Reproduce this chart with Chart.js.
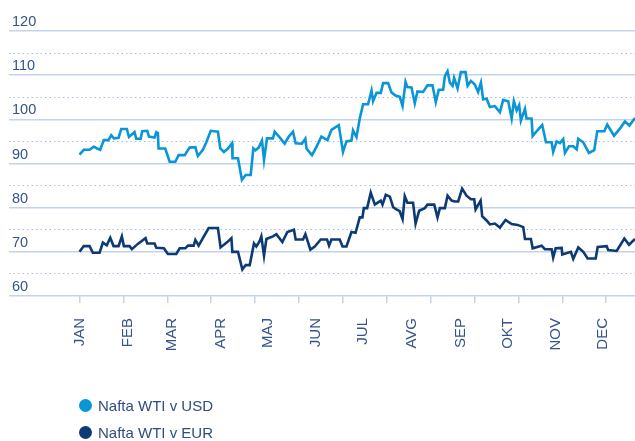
<!DOCTYPE html>
<html>
<head>
<meta charset="utf-8">
<script src="https://cdn.jsdelivr.net/npm/chart.js@4.4.1/dist/chart.umd.min.js"></script>
<style>
  body { margin: 0; background: #fff; }
  #wrap { position: relative; width: 635px; height: 441px; }
  .legend-item { position: absolute; left: 79px; display: flex; align-items: center;
    font-family: 'Liberation Sans', Arial, sans-serif; font-size: 15px; color: #2f4d7e; }
  .legend-item span.dot { width: 13px; height: 13px; border-radius: 50%; margin-right: 6px; display: inline-block; }
</style>
</head>
<body>
<div id="wrap">
  <canvas id="oilChart" width="635" height="441"></canvas>
  <div class="legend-item" style="top:397px"><span class="dot" style="background:#0a96d6"></span>Nafta WTI v USD</div>
  <div class="legend-item" style="top:424px"><span class="dot" style="background:#0b3a74"></span>Nafta WTI v EUR</div>
</div>
<script>
// day of year -> price
var usdDays = [0, 2.7, 6.4, 9.1, 11.3, 13.2, 15.5, 18.5, 20.2, 21.9, 24.9, 26.6, 30.2, 31.5, 35.1, 36.2, 39.0, 40.0, 43.2, 44.3,
  47.9, 49.0, 50.0, 50.4, 54.7, 57.5, 61.1, 63.2, 67.1, 70.2, 73.9, 75.5, 78.7, 80.9, 83.7, 88.3, 89.8, 92.1, 94.7, 97.3,
  97.6, 101.1, 103.6, 106.0, 109.2, 110.9, 112.2, 114.3, 116.4, 117.7, 119.6, 123.4, 124.5, 127.7, 130.9, 133.5, 136.2, 137.9, 141.9, 144.1,
  144.8, 148.3, 151.1, 154.3, 158.2, 160.7, 165.4, 168.1, 170.3, 173.5, 174.5, 176.7, 178.8, 180.9, 184.1, 186.3, 187.3, 189.5, 192.2, 193.7,
  196.9, 199.0, 201.6, 204.3, 206.1, 208.0, 209.2, 211.8, 213.9, 215.6, 219.2, 222.0, 225.2, 227.3, 229.2, 232.0, 233.1, 234.8, 236.3, 238.0,
  239.0, 241.2, 243.3, 246.3, 247.6, 249.7, 252.2, 254.3, 256.1, 257.5, 259.7, 261.8, 265.0, 268.2, 270.3, 273.5, 275.7, 277.1, 278.9, 280.5,
  281.6, 284.2, 285.2, 288.4, 289.1, 291.6, 295.2, 297.6, 301.2, 302.2, 304.4, 306.5, 308.6, 309.7, 312.3, 315.0, 317.2, 318.2, 321.4, 325.0,
  328.4, 330.3, 334.8, 336.7, 341.0, 344.8, 348.0, 350.8, 354.4];
var usdValues = [92.0, 93.1, 93.1, 93.8, 93.4, 93.1, 95.3, 95.3, 96.4, 95.7, 95.8, 97.8, 97.8, 96.0, 97.1, 95.6, 95.6, 97.3, 97.4, 96.1,
  95.9, 97.1, 96.9, 93.4, 93.4, 90.4, 90.4, 91.9, 91.9, 93.6, 93.7, 91.7, 93.1, 94.8, 97.4, 97.2, 93.4, 92.6, 93.4, 94.6,
  91.2, 91.2, 86.3, 87.4, 87.4, 93.4, 93.0, 93.6, 95.2, 90.8, 95.7, 95.7, 97.2, 95.9, 94.5, 96.1, 97.2, 94.6, 94.5, 95.6,
  93.4, 91.9, 93.7, 96.1, 95.3, 97.6, 98.7, 92.6, 95.0, 95.2, 97.5, 96.0, 100.2, 103.4, 103.4, 106.5, 104.1, 106.0, 106.0, 108.2,
  108.2, 106.1, 105.4, 105.1, 103.0, 108.5, 107.3, 107.2, 103.6, 106.3, 106.2, 107.7, 107.7, 103.9, 106.7, 106.7, 109.8, 110.9, 108.3, 107.6,
  109.4, 107.0, 110.7, 110.7, 107.6, 108.7, 107.9, 106.2, 108.3, 104.5, 104.7, 102.8, 103.0, 101.6, 104.4, 104.1, 100.2, 104.1, 102.0, 103.2,
  99.7, 102.4, 100.2, 100.2, 96.2, 97.3, 98.7, 94.8, 94.8, 92.6, 95.0, 94.6, 95.5, 92.4, 93.9, 93.9, 93.2, 95.6, 94.8, 92.4,
  93.0, 97.3, 97.3, 98.8, 96.3, 97.9, 99.5, 98.6, 100.3];

var eurDays = [0, 2.7, 6.4, 8.5, 12.8, 14.9, 17.4, 19.6, 21.7, 24.9, 27.0, 28.3, 31.9, 33.4, 37.2, 42.1, 43.2, 47.9, 49.0, 53.8,
  56.4, 61.7, 63.9, 67.5, 69.2, 72.8, 73.9, 76.0, 78.7, 82.4, 88.3, 90.0, 94.3, 96.9, 97.5, 101.1, 103.9, 106.0, 108.6, 111.3,
  112.8, 114.9, 116.0, 117.7, 119.2, 123.4, 125.6, 129.4, 132.6, 136.8, 137.9, 142.6, 144.1, 147.3, 150.1, 153.9, 157.9, 159.2, 160.7, 166.0,
  167.8, 170.3, 173.5, 176.1, 178.8, 180.5, 181.4, 183.5, 185.8, 188.4, 190.5, 192.2, 193.3, 195.4, 198.0, 200.1, 202.2, 204.3, 206.1, 207.5,
  209.2, 212.8, 214.4, 216.7, 220.3, 222.0, 226.3, 228.4, 229.9, 233.1, 234.8, 237.4, 239.5, 241.6, 244.1, 246.9, 249.7, 251.8, 252.7, 255.9,
  256.9, 259.7, 261.8, 265.0, 268.2, 271.8, 275.7, 279.5, 283.1, 284.2, 288.0, 289.1, 294.8, 296.9, 301.2, 302.2, 303.8, 307.6, 308.0, 313.5,
  315.0, 318.2, 321.4, 324.2, 329.3, 330.6, 336.3, 337.3, 342.7, 347.6, 350.6, 354.4];
var eurValues = [70.0, 71.3, 71.3, 69.8, 69.8, 72.1, 71.5, 73.2, 71.3, 71.3, 73.5, 71.3, 71.3, 70.6, 71.8, 73.1, 71.9, 71.9, 70.9, 70.8,
  69.5, 69.5, 70.8, 70.8, 71.4, 71.4, 72.7, 71.4, 73.1, 75.4, 75.4, 71.0, 72.2, 73.1, 70.0, 70.0, 66.0, 67.0, 67.0, 71.9,
  71.2, 72.4, 73.5, 69.1, 72.9, 73.5, 74.0, 72.2, 74.5, 75.0, 72.8, 72.8, 74.0, 70.5, 71.2, 72.8, 72.8, 71.4, 72.8, 72.8,
  71.2, 71.2, 74.5, 74.3, 77.8, 77.8, 79.9, 79.9, 83.4, 80.7, 81.2, 81.6, 80.7, 82.9, 82.5, 80.1, 79.6, 79.2, 77.4, 82.6,
  81.1, 81.1, 76.4, 79.3, 79.9, 80.7, 80.7, 77.8, 79.9, 79.9, 82.7, 81.6, 81.4, 81.4, 84.3, 82.7, 81.9, 81.9, 79.6, 81.6,
  78.1, 77.1, 76.2, 76.4, 75.5, 77.2, 76.3, 76.1, 75.6, 72.9, 72.9, 70.8, 71.4, 70.6, 70.6, 68.7, 70.8, 70.9, 69.4, 70.0,
  68.4, 71.0, 70.0, 68.5, 68.5, 71.1, 71.3, 70.4, 70.2, 73.0, 71.6, 72.9];

var monthLabels = ['JAN', 'FEB', 'MAR', 'APR', 'MAJ', 'JUN', 'JUL', 'AVG', 'SEP', 'OKT', 'NOV', 'DEC'];
var monthStarts = [0, 31, 59, 90, 120, 151, 181, 212, 243, 273, 304, 334];
var tickDays = [0, 28, 56, 84, 112, 140, 168, 196, 224, 252, 280, 308, 336];

var xMin = -45, xMax = 354.4;
var gridSolid = '#c3d4ea', gridDot = '#a6bfdc', textColor = '#34548a';
var fontFamily = "'Liberation Sans', Arial, sans-serif";

function toPoints(days, values) {
  return days.map(function (d, i) { return { x: d, y: values[i] }; });
}

// keep the plot running right up to the canvas edge
function noSidePadding(scale) {
  scale.paddingLeft = 0;
  scale.paddingRight = 0;
}

var ctx = document.getElementById('oilChart').getContext('2d');
var oilChart = new Chart(ctx, {
  type: 'line',
  data: {
    datasets: [{
      label: 'Nafta WTI v USD',
      data: toPoints(usdDays, usdValues),
      borderColor: '#0a96d6',
      borderWidth: 2.6,
      pointRadius: 0,
      tension: 0
    }, {
      label: 'Nafta WTI v EUR',
      data: toPoints(eurDays, eurValues),
      borderColor: '#0b3a74',
      borderWidth: 2.6,
      pointRadius: 0,
      tension: 0
    }]
  },
  options: {
    responsive: false,
    animation: false,
    devicePixelRatio: 1,
    layout: { padding: { top: 31, left: 0, right: 0, bottom: 0 } },
    plugins: { legend: { display: false }, tooltip: { enabled: false } },
    scales: {
      x: {
        type: 'linear', position: 'bottom', weight: 0,
        min: xMin, max: xMax,
        afterBuildTicks: function (scale) {
          scale.ticks = tickDays.map(function (d) { return { value: d }; });
        },
        afterFit: function (scale) { scale.height = 0; noSidePadding(scale); },
        ticks: { display: false },
        grid: { drawOnChartArea: false, drawTicks: true, tickLength: 7, color: gridSolid, lineWidth: 1.5 },
        border: { display: false }
      },
      months: {
        type: 'linear', position: 'bottom', weight: 1,
        min: xMin, max: xMax,
        afterBuildTicks: function (scale) {
          scale.ticks = monthStarts.map(function (d) { return { value: d }; });
        },
        afterFit: function (scale) { scale.height = 145; noSidePadding(scale); },
        ticks: {
          autoSkip: false, minRotation: 90, maxRotation: 90, padding: 22,
          color: textColor,
          font: { family: fontFamily, size: 15 },
          callback: function (value, index) { return monthLabels[index]; }
        },
        grid: { display: false, drawTicks: false, tickLength: 0 },
        border: { display: false }
      },
      y: {
        min: 60, max: 120,
        afterFit: function (scale) { scale.width = 9; },
        ticks: {
          stepSize: 5, mirror: true, padding: 3, labelOffset: -9,
          color: textColor,
          font: { family: fontFamily, size: 14.5 },
          callback: function (v) { return v % 10 === 0 ? v : ''; }
        },
        grid: {
          drawTicks: false,
          color: function (c) { return c.tick && c.tick.value % 10 !== 0 ? gridDot : gridSolid; },
          lineWidth: function (c) { return c.tick && c.tick.value % 10 !== 0 ? 1 : 1.6; }
        },
        border: {
          display: false,
          dash: function (c) { return c.tick && c.tick.value % 10 !== 0 ? [1.5, 3] : []; }
        }
      }
    }
  }
});
</script>
</body>
</html>
